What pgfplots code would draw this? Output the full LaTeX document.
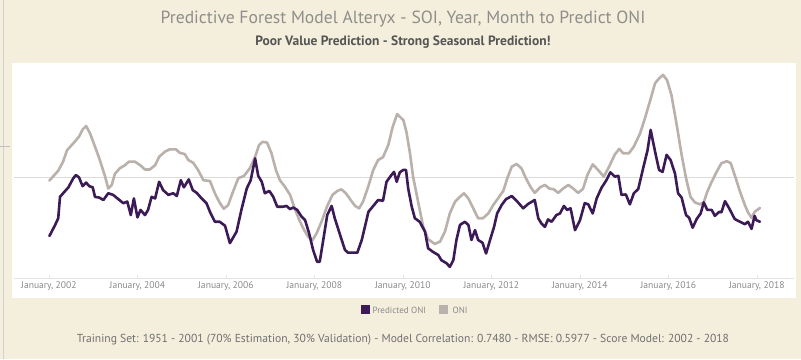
\documentclass[border=0pt]{standalone}
\usepackage{fontspec}
\setmainfont{PT Sans}
\usepackage{pgfplots}
\usepackage{pgfplotstable}
\pgfplotsset{compat=1.18}
\definecolor{bg}{HTML}{F4EEDD}
\definecolor{pred}{HTML}{3B1A55}
\definecolor{oni}{HTML}{BAB0AC}
\definecolor{titlegray}{HTML}{8E8E8A}
\definecolor{subgray}{HTML}{555555}
\definecolor{ticklab}{HTML}{8A8A8A}
\definecolor{foot}{HTML}{707070}

\pgfplotstableread{
x y
2002.01 -1.49
2002.14 -1.21
2002.21 -1.04
2002.25 -0.50
2002.32 -0.41
2002.44 -0.26
2002.55 -0.03
2002.61 0.05
2002.68 -0.01
2002.76 -0.23
2002.84 -0.14
2002.91 -0.23
2002.99 -0.26
2003.04 -0.50
2003.14 -0.52
2003.23 -0.58
2003.34 -0.41
2003.45 -0.45
2003.57 -0.56
2003.68 -0.66
2003.77 -0.62
2003.85 -0.96
2003.92 -0.54
2004.00 -1.02
2004.07 -0.83
2004.17 -0.96
2004.24 -0.83
2004.32 -0.50
2004.40 -0.54
2004.49 -0.12
2004.58 -0.33
2004.70 -0.45
2004.81 -0.41
2004.89 -0.48
2004.98 -0.08
2005.05 -0.26
2005.16 -0.06
2005.25 -0.33
2005.34 -0.40
2005.45 -0.54
2005.56 -0.66
2005.64 -0.88
2005.75 -1.13
2005.86 -1.13
2005.98 -1.23
2006.09 -1.67
2006.24 -1.38
2006.35 -0.83
2006.47 -0.29
2006.56 -0.08
2006.66 0.47
2006.73 0.03
2006.81 -0.12
2006.88 -0.41
2006.98 -0.35
2007.07 -0.50
2007.16 -0.75
2007.29 -0.75
2007.37 -0.73
2007.45 -0.81
2007.52 -0.77
2007.61 -0.83
2007.71 -1.00
2007.79 -1.09
2007.88 -1.42
2007.97 -1.84
2008.06 -2.14
2008.12 -2.14
2008.20 -1.59
2008.29 -0.96
2008.39 -0.73
2008.46 -1.04
2008.58 -1.46
2008.69 -1.84
2008.76 -1.91
2008.97 -1.91
2009.07 -1.59
2009.16 -1.17
2009.22 -0.88
2009.33 -0.73
2009.44 -0.58
2009.55 -0.60
2009.63 -0.12
2009.74 0.05
2009.80 0.13
2009.86 -0.12
2009.93 0.12
2010.01 0.18
2010.07 0.18
2010.12 -0.29
2010.20 -0.75
2010.27 -1.04
2010.38 -1.13
2010.50 -1.38
2010.57 -1.80
2010.68 -1.89
2010.80 -1.97
2010.87 -2.10
2010.99 -2.18
2011.06 -2.27
2011.14 -2.10
2011.21 -1.59
2011.29 -1.21
2011.40 -1.13
2011.48 -1.21
2011.55 -1.59
2011.63 -1.34
2011.70 -1.59
2011.80 -1.66
2011.88 -1.93
2011.97 -1.59
2012.06 -1.26
2012.13 -0.92
2012.23 -0.71
2012.33 -0.56
2012.46 -0.48
2012.57 -0.60
2012.72 -0.79
2012.83 -0.68
2012.98 -0.58
2013.06 -1.04
2013.13 -1.17
2013.21 -1.26
2013.28 -1.07
2013.36 -1.13
2013.47 -0.96
2013.55 -0.92
2013.64 -0.73
2013.71 -0.83
2013.79 -0.79
2013.89 -1.34
2014.00 -1.10
2014.11 -0.66
2014.19 -0.69
2014.29 -0.92
2014.38 -0.54
2014.49 -0.27
2014.60 -0.08
2014.69 0.12
2014.79 0.01
2014.87 0.03
2014.94 -0.45
2015.04 -0.44
2015.13 -0.69
2015.22 -0.41
2015.32 -0.30
2015.43 0.22
2015.53 0.68
2015.60 1.19
2015.70 0.64
2015.79 0.18
2015.87 0.13
2015.96 0.56
2016.05 0.43
2016.15 0.09
2016.22 -0.41
2016.30 -0.52
2016.40 -0.96
2016.47 -1.03
2016.55 -1.28
2016.64 -1.06
2016.73 -0.92
2016.80 -0.64
2016.88 -0.83
2016.98 -0.83
2017.05 -0.98
2017.15 -0.88
2017.20 -0.89
2017.28 -0.61
2017.37 -0.78
2017.50 -1.06
2017.62 -1.13
2017.73 -1.19
2017.80 -1.13
2017.88 -1.31
2017.95 -0.98
2017.99 -1.09
2018.07 -1.13
}\predtable

\pgfplotstableread{
x y
2002.01 -0.09
2002.21 0.16
2002.32 0.39
2002.41 0.68
2002.55 0.85
2002.68 1.02
2002.76 1.20
2002.84 1.29
2002.93 1.10
2003.04 0.77
2003.15 0.43
2003.27 0.01
2003.34 -0.29
2003.42 -0.20
2003.49 0.08
2003.60 0.22
2003.72 0.30
2003.81 0.39
2003.94 0.39
2004.06 0.30
2004.17 0.19
2004.28 0.19
2004.40 0.30
2004.49 0.51
2004.62 0.64
2004.73 0.70
2004.87 0.70
2004.96 0.61
2005.07 0.58
2005.15 0.43
2005.26 0.36
2005.37 0.18
2005.49 -0.08
2005.64 -0.10
2005.75 -0.41
2005.86 -0.65
2005.95 -0.80
2006.05 -0.71
2006.16 -0.37
2006.28 -0.03
2006.41 0.03
2006.54 0.22
2006.66 0.51
2006.75 0.81
2006.83 0.89
2006.93 0.87
2007.03 0.60
2007.13 0.18
2007.22 -0.08
2007.33 -0.24
2007.45 -0.45
2007.54 -0.75
2007.66 -1.09
2007.75 -1.30
2007.86 -1.51
2007.96 -1.59
2008.05 -1.42
2008.16 -1.13
2008.29 -0.73
2008.41 -0.45
2008.52 -0.35
2008.61 -0.31
2008.71 -0.41
2008.82 -0.58
2008.92 -0.73
2009.01 -0.79
2009.10 -0.62
2009.22 -0.23
2009.33 0.18
2009.44 0.43
2009.55 0.50
2009.67 0.81
2009.77 1.27
2009.87 1.59
2009.97 1.48
2010.01 1.44
2010.08 1.14
2010.16 0.60
2010.23 0.01
2010.35 -0.66
2010.46 -1.26
2010.57 -1.57
2010.72 -1.69
2010.84 -1.63
2010.95 -1.38
2011.06 -0.92
2011.18 -0.62
2011.29 -0.50
2011.38 -0.41
2011.48 -0.54
2011.59 -0.79
2011.70 -1.04
2011.81 -1.04
2011.93 -0.92
2012.04 -0.71
2012.15 -0.54
2012.27 -0.35
2012.36 -0.03
2012.46 0.26
2012.57 0.33
2012.68 0.22
2012.78 -0.03
2012.89 -0.26
2012.98 -0.40
2013.10 -0.26
2013.21 -0.20
2013.31 -0.29
2013.41 -0.31
2013.51 -0.40
2013.62 -0.29
2013.74 -0.20
2013.85 -0.29
2013.96 -0.40
2014.07 -0.30
2014.17 0.05
2014.29 0.32
2014.41 0.18
2014.54 0.01
2014.66 0.26
2014.79 0.57
2014.89 0.71
2014.98 0.60
2015.11 0.60
2015.22 0.77
2015.36 1.10
2015.47 1.48
2015.58 1.90
2015.70 2.37
2015.79 2.49
2015.88 2.58
2015.97 2.45
2016.07 2.07
2016.19 1.31
2016.30 0.56
2016.40 -0.03
2016.50 -0.50
2016.60 -0.64
2016.71 -0.69
2016.80 -0.64
2016.88 -0.37
2016.98 -0.12
2017.09 0.13
2017.20 0.35
2017.32 0.40
2017.41 0.35
2017.50 0.05
2017.62 -0.37
2017.73 -0.71
2017.80 -0.89
2017.88 -1.03
2017.95 -0.88
2018.07 -0.78
}\onitable

\begin{document}
\begin{tikzpicture}
\useasboundingbox (0pt,0pt) rectangle (801pt,359pt);
\begin{scope}[x=1pt,y=1pt]
\fill[bg] (0,0) rectangle (801,359);
\draw[black!18, line width=0.8pt] (3,0) -- (3,359);
\draw[black!25, line width=0.6pt] (0,213) -- (10,213);
\fill[white] (12,61) rectangle (796,296);
\node[text=titlegray, font=\fontsize{17.6}{20}\selectfont] at (403,340) {Predictive Forest Model Alteryx - SOI, Year, Month to Predict ONI};
\node[text=subgray, font=\bfseries\fontsize{13.5}{16}\selectfont] at (403,317) {Poor Value Prediction - Strong Seasonal Prediction!};
\end{scope}
\begin{axis}[
  at={(14pt,81pt)}, anchor=south west,
  scale only axis, width=780pt, height=213pt,
  xmin=2001.21, xmax=2018.84, ymin=-2.55, ymax=2.83,
  axis x line*=bottom, axis y line*=left,
  y axis line style={draw=none},
  x axis line style={draw=black!10, line width=0.6pt},
  ytick=\empty,
  xtick={2002,2004,2006,2008,2010,2012,2014,2016,2018},
  xticklabels={{January, 2002},{January, 2004},{January, 2006},{January, 2008},{January, 2010},{January, 2012},{January, 2014},{January, 2016},{January, 2018}},
  xticklabel style={font=\fontsize{9.6}{11}\selectfont, text=ticklab},
  major tick length=3pt,
  tick style={draw=black!10},
  extra y ticks={0},
  extra y tick labels={},
  extra y tick style={grid=major, major grid style={draw=black!14, line width=0.5pt}, major tick length=0pt},
  clip=true,
]
\addplot[oni, line width=2.6pt, line join=round, line cap=round] table[x=x,y=y] {\onitable};
\addplot[pred, line width=2.6pt, line join=round, line cap=round] table[x=x,y=y] {\predtable};
\end{axis}
\begin{scope}[x=1pt,y=1pt]
\fill[pred] (361,45) rectangle (369.5,53.5);
\node[anchor=west, text=ticklab, font=\fontsize{9}{10}\selectfont, inner sep=0pt] at (372.5,49) {Predicted ONI};
\fill[oni] (439,45) rectangle (447.5,53.5);
\node[anchor=west, text=ticklab, font=\fontsize{9}{10}\selectfont, inner sep=0pt] at (452.5,49) {ONI};
\node[text=foot, font=\fontsize{11.6}{13}\selectfont] at (403,19) {Training Set: 1951 - 2001 (70\% Estimation, 30\% Validation) - Model Correlation: 0.7480 - RMSE: 0.5977 - Score Model: 2002 - 2018};
\end{scope}
\end{tikzpicture}
\end{document}
